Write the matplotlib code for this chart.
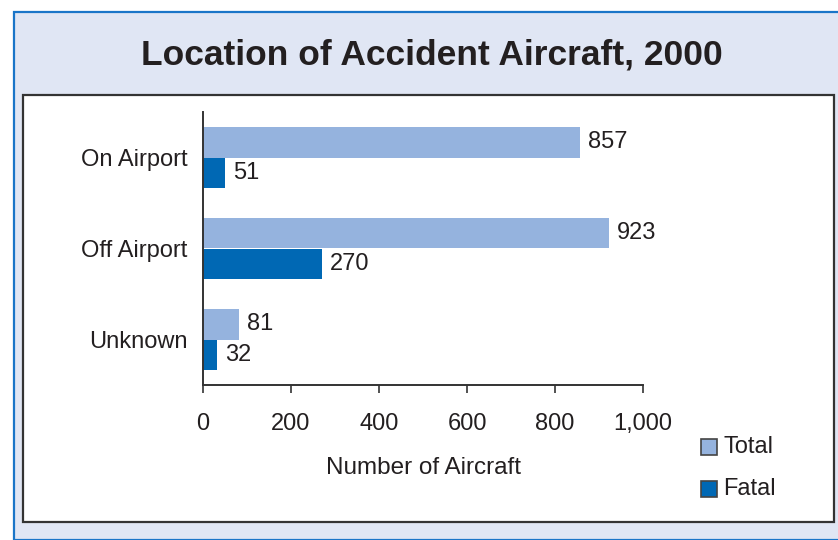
import matplotlib
matplotlib.use("Agg")
import matplotlib.pyplot as plt
from matplotlib.patches import Rectangle
import numpy as np

plt.rcParams['font.family'] = ['Liberation Sans', 'DejaVu Sans']

title = "Location of Accident Aircraft, 2000"
categories = ["On Airport", "Off Airport", "Unknown"]
series_names = ["Total", "Fatal"]
total = [857, 923, 81]
fatal = [51, 270, 32]
xticks = [0, 200, 400, 600, 800, 1000]
xticklabels = ["0", "200", "400", "600", "800", "1,000"]
xlabel = "Number of Aircraft"

c_total = "#95b3de"
c_fatal = "#0068b4"
bg = "#e0e6f4"

W, H = 838, 540
fig = plt.figure(figsize=(W / 100, H / 100), dpi=100)
fig.patch.set_facecolor("white")

def fx(px):
    return px / W

def fy(py):
    return 1 - py / H

# outer light-blue panel with blue border
fig.add_artist(Rectangle((fx(14), 0), 1 - fx(14) + 0.01, fy(12), transform=fig.transFigure,
                         facecolor=bg, edgecolor="#1a75c8", linewidth=1.6, zorder=-2))
# inner white panel
fig.add_artist(Rectangle((fx(23), fy(522)), fx(834) - fx(23), fy(95) - fy(522), transform=fig.transFigure,
                         facecolor="white", edgecolor="#333333", linewidth=1.6, zorder=-1))

fig.text(fx(432), fy(55), title, ha="center", va="center", fontsize=25.5, fontweight="bold", color="#231f20")

fs = 17
ax = fig.add_axes([fx(203), fy(385), fx(643) - fx(203), fy(112) - fy(385)])
ax.set_facecolor("none")
y = np.arange(len(categories))
h = 0.335
ax.barh(y - h / 2, total, height=h, color=c_total, label=series_names[0])
ax.barh(y + h / 2, fatal, height=h, color=c_fatal, label=series_names[1])
for yi, v in zip(y, total):
    ax.text(v + 18, yi - h / 2, f"{v}", va="center", ha="left", fontsize=fs, color="#231f20")
for yi, v in zip(y, fatal):
    ax.text(v + 18, yi + h / 2, f"{v}", va="center", ha="left", fontsize=fs, color="#231f20")

ax.set_xlim(0, 1000)
ax.set_ylim(2.5, -0.5)
ax.set_yticks(y)
ax.set_yticklabels(categories, fontsize=fs, color="#231f20")
for lab in ax.get_yticklabels():
    lab.set_y(0)
ax.tick_params(axis="y", length=0, pad=11)
ax.set_xticks(xticks)
ax.set_xticklabels(xticklabels, fontsize=fs, color="#231f20")
ax.tick_params(axis="x", direction="out", length=6, width=1.2, color="#333333", pad=14)
for s in ["top", "right"]:
    ax.spines[s].set_visible(False)
for s in ["left", "bottom"]:
    ax.spines[s].set_color("#333333")
    ax.spines[s].set_linewidth(1.4)
ax.set_xlabel(xlabel, fontsize=17.5, color="#231f20", labelpad=16)

# legend drawn manually
for name, col, py in [(series_names[0], c_total, 447), (series_names[1], c_fatal, 489)]:
    fig.add_artist(Rectangle((fx(701), fy(py + 8)), fx(16), fy(0) - fy(16), transform=fig.transFigure,
                             facecolor=col, edgecolor="#444444", linewidth=1.2, zorder=3))
    fig.text(fx(723), fy(py), name, ha="left", va="center", fontsize=fs, color="#231f20")

fig.savefig("out.png", dpi=100)
